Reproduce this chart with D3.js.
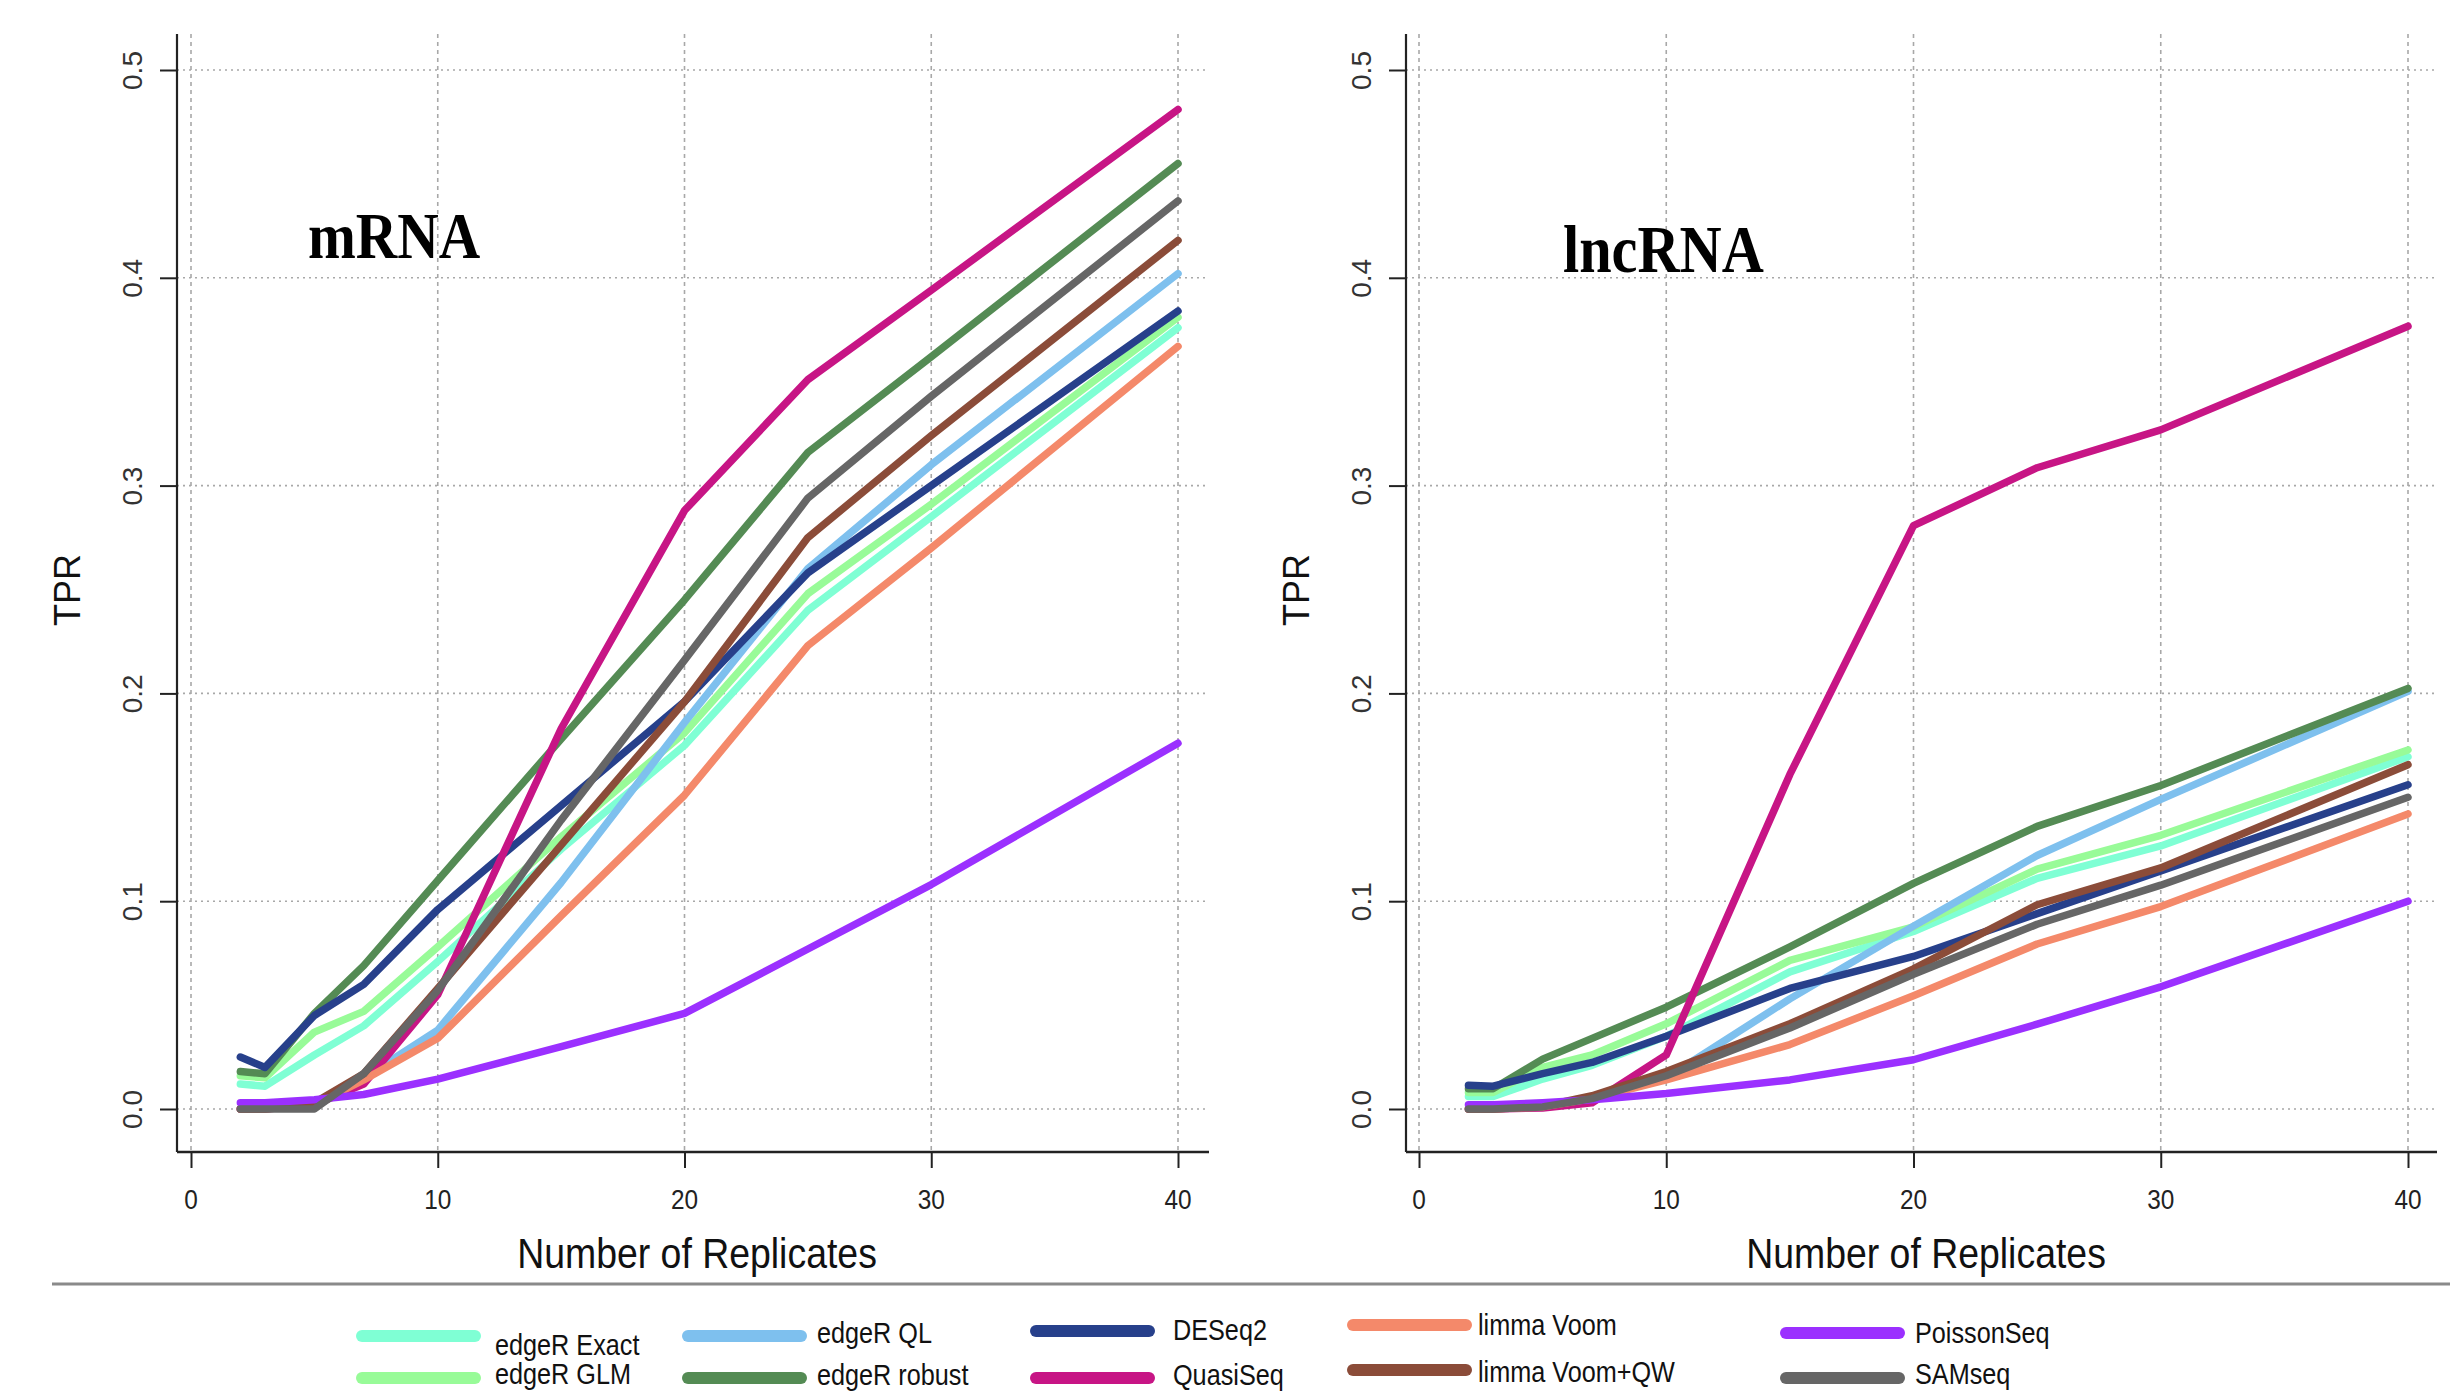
<!DOCTYPE html>
<html>
<head>
<meta charset="utf-8">
<script src="https://cdn.jsdelivr.net/npm/d3@7/dist/d3.min.js"></script>
<style>
  body { margin: 0; background: #fff; }
  svg { display: block; }
</style>
</head>
<body>
<svg id="chart" width="2450" height="1394"></svg>
<script>
// ---- data ----
var replicates = [2, 3, 5, 7, 10, 15, 20, 25, 30, 40];
var xTicks = [0, 10, 20, 30, 40];
var yTicks = [0, 0.1, 0.2, 0.3, 0.4, 0.5];

var methods = ["edgeR Exact", "edgeR GLM", "edgeR QL", "edgeR robust", "DESeq2",
               "QuasiSeq", "limma Voom", "limma Voom+QW", "PoissonSeq", "SAMseq"];

// mRNA TPR
var mrnaEdgeRExact  = [0.012, 0.011, 0.026, 0.040, 0.071, 0.125, 0.175, 0.240, 0.285, 0.376];
var mrnaEdgeRGLM    = [0.016, 0.015, 0.037, 0.047, 0.078, 0.131, 0.181, 0.248, 0.291, 0.381];
var mrnaEdgeRQL     = [0.000, 0.000, 0.002, 0.015, 0.038, 0.109, 0.186, 0.260, 0.310, 0.402];
var mrnaEdgeRRobust = [0.018, 0.017, 0.046, 0.069, 0.110, 0.178, 0.245, 0.316, 0.362, 0.455];
var mrnaDESeq2      = [0.025, 0.020, 0.045, 0.060, 0.096, 0.146, 0.196, 0.258, 0.300, 0.384];
var mrnaQuasiSeq    = [0.000, 0.000, 0.002, 0.012, 0.055, 0.183, 0.288, 0.351, 0.394, 0.481];
var mrnaVoom        = [0.000, 0.000, 0.002, 0.014, 0.034, 0.093, 0.151, 0.223, 0.270, 0.367];
var mrnaVoomQW      = [0.000, 0.000, 0.003, 0.017, 0.058, 0.127, 0.196, 0.275, 0.324, 0.418];
var mrnaPoissonSeq  = [0.003, 0.003, 0.0045, 0.007, 0.0144, 0.030, 0.046, 0.077, 0.108, 0.176];
var mrnaSAMseq      = [0.000, 0.000, 0.000, 0.017, 0.057, 0.139, 0.216, 0.294, 0.343, 0.437];

// lncRNA TPR
var lncEdgeRExact  = [0.006, 0.006, 0.0144, 0.021, 0.035, 0.066, 0.0854, 0.111, 0.1266, 0.1695];
var lncEdgeRGLM    = [0.008, 0.008, 0.020, 0.026, 0.041, 0.0715, 0.0877, 0.1154, 0.1317, 0.1728];
var lncEdgeRQL     = [0.000, 0.000, 0.001, 0.005, 0.015, 0.053, 0.088, 0.122, 0.149, 0.201];
var lncEdgeRRobust = [0.0098, 0.0098, 0.024, 0.034, 0.049, 0.078, 0.1086, 0.136, 0.1557, 0.2024];
var lncDESeq2      = [0.0114, 0.011, 0.017, 0.0224, 0.035, 0.058, 0.0734, 0.094, 0.1146, 0.156];
var lncQuasiSeq    = [0.000, 0.000, 0.0005, 0.003, 0.026, 0.161, 0.2807, 0.3086, 0.3268, 0.3767];
var lncVoom        = [0.000, 0.000, 0.001, 0.005, 0.014, 0.031, 0.0545, 0.0794, 0.0974, 0.142];
var lncVoomQW      = [0.000, 0.000, 0.0014, 0.0064, 0.018, 0.041, 0.0674, 0.0983, 0.116, 0.1657];
var lncPoissonSeq  = [0.002, 0.002, 0.003, 0.0045, 0.0075, 0.014, 0.0237, 0.0408, 0.0588, 0.100];
var lncSAMseq      = [0.000, 0.000, 0.001, 0.005, 0.016, 0.039, 0.0648, 0.0889, 0.1077, 0.150];

// ---- styles ----
var methodColors = ["#7FFFD4", "#98FB98", "#7EC0EE", "#548B54", "#27408B",
                    "#C71585", "#F4896A", "#8B4C39", "#9B30FF", "#666666"];

var panels = [
  { title: "mRNA",   series: [mrnaEdgeRExact, mrnaEdgeRGLM, mrnaEdgeRQL, mrnaEdgeRRobust, mrnaDESeq2,
                              mrnaQuasiSeq, mrnaVoom, mrnaVoomQW, mrnaPoissonSeq, mrnaSAMseq],
    axisX: 177, xRange: [191, 1178], rightEnd: 1209, titleX: 308, titleY: 258, titleSize: 66 },
  { title: "lncRNA", series: [lncEdgeRExact, lncEdgeRGLM, lncEdgeRQL, lncEdgeRRobust, lncDESeq2,
                              lncQuasiSeq, lncVoom, lncVoomQW, lncPoissonSeq, lncSAMseq],
    axisX: 1406, xRange: [1419, 2408], rightEnd: 2437, titleX: 1563, titleY: 272, titleSize: 67 }
];

var plotTop = 34, plotBottom = 1152;
var squeeze = 0.87;   // the source figure is slightly compressed horizontally
var sans = "'Liberation Sans', Arial, sans-serif";

var svg = d3.select("#chart");
svg.append("rect").attr("width", 2450).attr("height", 1394).attr("fill", "#fff");

var y = d3.scaleLinear().domain([0, 0.5]).range([1109, 70]);

// text helper with horizontal squeeze
function squeezedText(parent, x, yy, str, size, opts) {
  opts = opts || {};
  var g = parent.append("g").attr("transform", "translate(" + x + "," + yy + ") scale(" + squeeze + ",1)");
  return g.append("text")
    .attr("text-anchor", opts.anchor || "start")
    .attr("font-family", opts.family || sans)
    .attr("font-weight", opts.weight || "normal")
    .attr("font-size", size)
    .attr("fill", opts.fill || "#111")
    .text(str);
}

panels.forEach(function(p) {
  var x = d3.scaleLinear().domain([0, 40]).range(p.xRange);
  var g = svg.append("g");

  // grid
  g.selectAll(".vgrid").data(xTicks).enter().append("line")
    .attr("x1", function(d) { return x(d); }).attr("x2", function(d) { return x(d); })
    .attr("y1", plotTop).attr("y2", plotBottom)
    .attr("stroke", "#a8a8a8").attr("stroke-width", 1.6).attr("stroke-dasharray", "4,4");
  g.selectAll(".hgrid").data(yTicks).enter().append("line")
    .attr("x1", p.axisX).attr("x2", p.rightEnd)
    .attr("y1", function(d) { return y(d); }).attr("y2", function(d) { return y(d); })
    .attr("stroke", "#a8a8a8").attr("stroke-width", 1.6).attr("stroke-dasharray", "2,4");

  // axes lines (bty = "l")
  g.append("line").attr("x1", p.axisX).attr("x2", p.axisX).attr("y1", plotTop).attr("y2", plotBottom)
    .attr("stroke", "#222").attr("stroke-width", 2.2);
  g.append("line").attr("x1", p.axisX).attr("x2", p.rightEnd).attr("y1", plotBottom).attr("y2", plotBottom)
    .attr("stroke", "#222").attr("stroke-width", 2.6);

  // x ticks
  var xAxis = d3.axisBottom(x).tickValues(xTicks).tickSize(16).tickSizeOuter(0).tickFormat("");
  var xa = g.append("g").attr("transform", "translate(0," + plotBottom + ")").call(xAxis);
  xa.select(".domain").remove();
  xa.selectAll(".tick line").attr("stroke", "#222").attr("stroke-width", 2);
  xTicks.forEach(function(t) {
    squeezedText(g, x(t), 1209, String(t), 28, { anchor: "middle", fill: "#222" });
  });

  // y ticks
  var yAxis = d3.axisLeft(y).tickValues(yTicks).tickSize(17).tickSizeOuter(0).tickFormat(d3.format(".1f"));
  var ya = g.append("g").attr("transform", "translate(" + p.axisX + ",0)").call(yAxis);
  ya.select(".domain").remove();
  ya.selectAll(".tick line").attr("stroke", "#222").attr("stroke-width", 2);
  ya.selectAll(".tick text")
    .attr("font-family", sans).attr("font-size", 28).attr("fill", "#333")
    .attr("text-anchor", "middle")
    .attr("x", 0).attr("dy", 0)
    .attr("transform", "translate(-35,0) rotate(-90)");

  // axis titles
  squeezedText(g, p.axisX + 520, 1268, "Number of Replicates", 43, { anchor: "middle" });
  g.append("text")
    .attr("transform", "translate(" + (p.axisX - 97) + ",590) rotate(-90)")
    .attr("text-anchor", "middle")
    .attr("font-family", sans).attr("font-size", 36).attr("fill", "#111")
    .text("TPR");

  // panel label
  squeezedText(g, p.titleX, p.titleY, p.title, p.titleSize,
    { family: "'Liberation Serif', 'Times New Roman', serif", weight: "bold", fill: "#000" });

  // lines
  var line = d3.line()
    .x(function(d, i) { return x(replicates[i]); })
    .y(function(d) { return y(d); });
  g.selectAll(".series").data(p.series).enter().append("path")
    .attr("d", line)
    .attr("fill", "none")
    .attr("stroke", function(d, i) { return methodColors[i]; })
    .attr("stroke-width", 7.5)
    .attr("stroke-linejoin", "round")
    .attr("stroke-linecap", "round");
});

// ---- legend ----
svg.append("line").attr("x1", 52).attr("x2", 2450).attr("y1", 1284).attr("y2", 1284)
  .attr("stroke", "#8a8a8a").attr("stroke-width", 3);

// legend laid out in 5 columns of 2 rows, slightly uneven like the source
var legendCols = [
  { x: 362,  rows: [1336, 1378], textGap: 20, textDy: [9, -4] },
  { x: 688,  rows: [1336, 1378], textGap: 16, textDy: [-3, -3] },
  { x: 1036, rows: [1331, 1378], textGap: 24, textDy: [-1, -3] },
  { x: 1353, rows: [1325, 1370], textGap: 12, textDy: [0, 2] },
  { x: 1786, rows: [1333, 1378], textGap: 16, textDy: [0, -4] }
];
var segLen = 113;
var lg = svg.append("g");
methods.forEach(function(m, i) {
  var col = legendCols[Math.floor(i / 2)], r = i % 2;
  var ly = col.rows[r];
  lg.append("line")
    .attr("x1", col.x).attr("x2", col.x + segLen).attr("y1", ly).attr("y2", ly)
    .attr("stroke", methodColors[i]).attr("stroke-width", 12).attr("stroke-linecap", "round");
  squeezedText(lg, col.x + segLen + col.textGap, ly + col.textDy[r] + 10, m, 29, { fill: "#111" });
});
</script>
</body>
</html>
